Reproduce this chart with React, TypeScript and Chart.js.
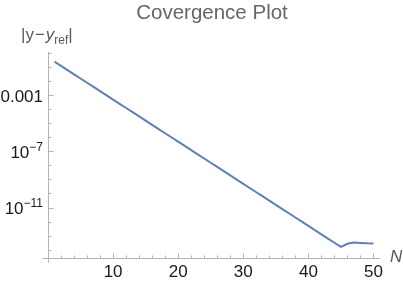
import React, { useEffect, useRef } from "react";
import { Chart, registerables } from "chart.js";

Chart.register(...registerables);

const nValues = [
  1, 2, 3, 4, 5, 6, 7, 8, 9, 10, 11, 12, 13, 14, 15, 16, 17, 18, 19, 20, 21, 22, 23, 24, 25,
  26, 27, 28, 29, 30, 31, 32, 33, 34, 35, 36, 37, 38, 39, 40, 41, 42, 43, 44, 45, 46, 47, 48, 49, 50,
];

const errValues = [
  2.45e-1, 1.23e-1, 6.17e-2, 3.09e-2, 1.55e-2, 7.76e-3, 3.89e-3, 1.95e-3, 9.77e-4, 4.9e-4,
  2.45e-4, 1.23e-4, 6.17e-5, 3.09e-5, 1.55e-5, 7.76e-6, 3.89e-6, 1.95e-6, 9.77e-7, 4.9e-7,
  2.45e-7, 1.23e-7, 6.17e-8, 3.09e-8, 1.55e-8, 7.76e-9, 3.89e-9, 1.95e-9, 9.77e-10, 4.9e-10,
  2.45e-10, 1.23e-10, 6.17e-11, 3.09e-11, 1.55e-11, 7.76e-12, 3.89e-12, 1.95e-12, 9.77e-13, 4.9e-13,
  2.45e-13, 1.23e-13, 6.17e-14, 3.09e-14, 1.55e-14, 2.6e-14, 3.2e-14, 3.0e-14, 2.8e-14, 2.7e-14,
];

const xMajorTicks = [10, 20, 30, 40, 50];
const xMinorTicks = [2, 4, 6, 8, 12, 14, 16, 18, 22, 24, 26, 28, 32, 34, 36, 38, 42, 44, 46, 48];
const yMajorTicks = [1e-3, 1e-7, 1e-11];
const yMajorBase = ["0.001", "10", "10"];
const yMajorExp = ["", "\u22127", "\u221211"];
const yMinorTicks = [
  1, 1e-1, 1e-2, 1e-4, 1e-5, 1e-6, 1e-8, 1e-9, 1e-10, 1e-12, 1e-13, 1e-14,
];

const titleText = "Covergence Plot";
const FONT = "'Liberation Sans', Arial, sans-serif";

const mmaPlugin = {
  id: "mmaAxes",
  beforeDatasetsDraw(chart: any) {
    const ctx = chart.ctx;
    const xs = chart.scales.x;
    const ys = chart.scales.y;
    const area = chart.chartArea;
    const ax = Math.round(xs.getPixelForValue(0)) + 0.5;
    const ay = Math.round(area.bottom) + 0.5;
    ctx.save();
    ctx.strokeStyle = "#b3b3b3";
    ctx.lineWidth = 1;
    ctx.beginPath();
    ctx.moveTo(ax - 6, ay);
    ctx.lineTo(area.right, ay);
    ctx.moveTo(ax, area.top);
    ctx.lineTo(ax, ay + 4);
    for (const v of xMajorTicks) {
      const px = Math.round(xs.getPixelForValue(v)) + 0.5;
      ctx.moveTo(px, ay);
      ctx.lineTo(px, ay - 5);
    }
    for (const v of xMinorTicks) {
      const px = Math.round(xs.getPixelForValue(v)) + 0.5;
      ctx.moveTo(px, ay);
      ctx.lineTo(px, ay - 3);
    }
    for (const v of yMajorTicks) {
      const py = Math.round(ys.getPixelForValue(v)) + 0.5;
      ctx.moveTo(ax, py);
      ctx.lineTo(ax + 5, py);
    }
    for (const v of yMinorTicks) {
      const py = Math.round(ys.getPixelForValue(v)) + 0.5;
      ctx.moveTo(ax, py);
      ctx.lineTo(ax + 3, py);
    }
    ctx.stroke();
    ctx.restore();
  },
  afterDraw(chart: any) {
    const ctx = chart.ctx;
    const xs = chart.scales.x;
    const ys = chart.scales.y;
    const area = chart.chartArea;
    const ax = xs.getPixelForValue(0);
    ctx.save();
    // x tick labels
    ctx.fillStyle = "#1a1a1a";
    ctx.font = `17px ${FONT}`;
    ctx.textAlign = "center";
    ctx.textBaseline = "alphabetic";
    for (const v of xMajorTicks) {
      ctx.fillText(String(v), xs.getPixelForValue(v), area.bottom + 19);
    }
    // y tick labels
    yMajorTicks.forEach((v, i) => {
      const py = ys.getPixelForValue(v);
      const right = ax - 5;
      const base = py + 6.4;
      ctx.textAlign = "left";
      if (yMajorExp[i]) {
        ctx.font = `12px ${FONT}`;
        const ew = ctx.measureText(yMajorExp[i]).width;
        ctx.font = `17px ${FONT}`;
        const bw = ctx.measureText(yMajorBase[i]).width;
        const start = right - ew - bw;
        ctx.fillText(yMajorBase[i], start, base);
        ctx.font = `12px ${FONT}`;
        ctx.fillText(yMajorExp[i], start + bw, base - 7);
      } else {
        ctx.font = `17px ${FONT}`;
        const bw = ctx.measureText(yMajorBase[i]).width;
        ctx.fillText(yMajorBase[i], right - bw, base);
      }
    });
    // title
    ctx.fillStyle = "#666666";
    ctx.font = `20.5px ${FONT}`;
    ctx.textAlign = "center";
    ctx.fillText(titleText, 212, 19);
    // x axis label
    ctx.fillStyle = "#595959";
    ctx.font = `italic 17px ${FONT}`;
    ctx.textAlign = "left";
    ctx.fillText("N", 390, 261.5);
    // y axis label |y−y_ref|
    let x = 21;
    const b = 40;
    const parts: [string, string, number][] = [
      ["|", `17px ${FONT}`, 0],
      ["y", `17px ${FONT}`, 0],
      ["\u2212", `17px ${FONT}`, 0],
      ["y", `italic 17px ${FONT}`, 0],
      ["ref", `12px ${FONT}`, 4],
      ["|", `17px ${FONT}`, 0],
    ];
    for (const [t, f, dy] of parts) {
      ctx.font = f;
      ctx.fillText(t, x, b + dy);
      x += ctx.measureText(t).width;
      if (t === "y" && f.startsWith("17")) x += 1;
      if (t === "\u2212") x += 1;
    }
    ctx.restore();
  },
};

export default function App() {
  const ref = useRef<HTMLCanvasElement | null>(null);
  useEffect(() => {
    document.body.style.margin = "0";
    const canvas = ref.current;
    if (!canvas) return;
    const points = nValues.map((n, i) => ({ x: n, y: errValues[i] }));
    const chart = new Chart(canvas, {
      type: "line",
      data: {
        datasets: [
          {
            data: points,
            borderColor: "#5E81B5",
            borderWidth: 2,
            pointRadius: 0,
            fill: false,
            tension: 0,
          },
        ],
      },
      options: {
        responsive: false,
        animation: false,
        devicePixelRatio: 1,
        layout: { padding: { top: 52, right: 23, left: 0, bottom: 0 } },
        plugins: {
          legend: { display: false },
          title: { display: false },
          tooltip: { enabled: false },
        },
        scales: {
          x: {
            type: "linear",
            min: 0,
            max: 51,
            grid: { display: false },
            border: { display: false },
            ticks: { display: false },
            afterFit: (s: any) => {
              s.height = 23.5;
            },
          },
          y: {
            type: "logarithmic",
            min: 2.75e-15,
            max: 1.2,
            grid: { display: false },
            border: { display: false },
            ticks: { display: false },
            afterFit: (s: any) => {
              s.width = 48;
            },
          },
        },
      },
      plugins: [mmaPlugin],
    });
    return () => chart.destroy();
  }, []);
  return (
    <div style={{ position: "absolute", left: 0, top: 0, width: 403, height: 281, background: "#fff" }}>
      <canvas ref={ref} width={403} height={281} style={{ width: 403, height: 281, display: "block" }} />
    </div>
  );
}
